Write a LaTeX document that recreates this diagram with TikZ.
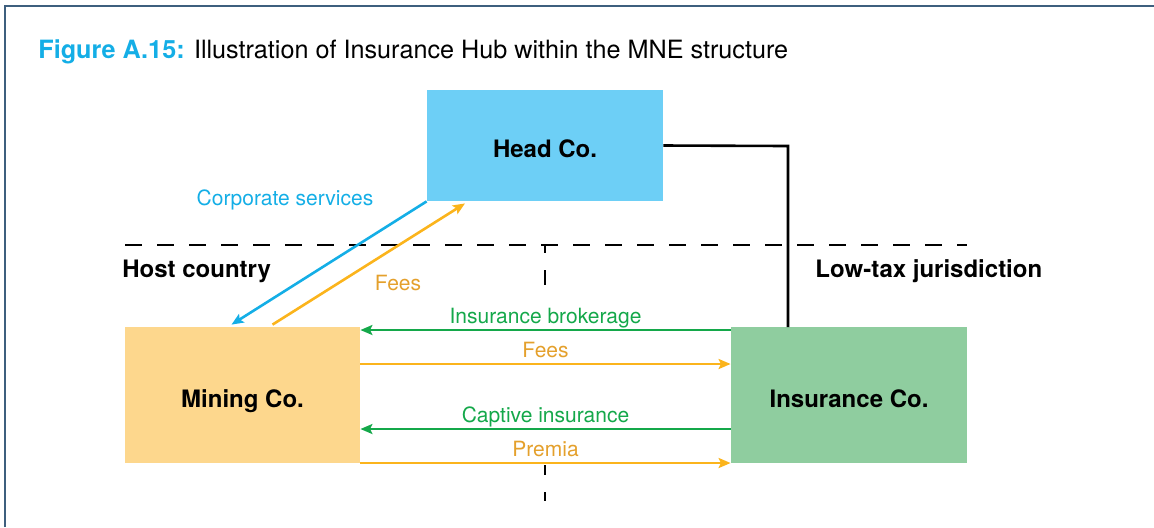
\documentclass[tikz,border=0pt]{standalone}
\usepackage{fontspec}
\setmainfont{TeX Gyre Heros}
\usetikzlibrary{arrows.meta,calc}

\definecolor{figblue}{HTML}{14AEE6}
\definecolor{headfill}{HTML}{6DCFF6}
\definecolor{minefill}{HTML}{FDD78D}
\definecolor{insfill}{HTML}{8FCD9F}
\definecolor{flowgreen}{HTML}{14A84A}
\definecolor{floworange}{HTML}{FBB41C}
\definecolor{feestext}{HTML}{E4A02C}
\definecolor{framecol}{HTML}{3E5F7E}

\tikzset{
    entity/.style={inner sep=0pt, text height=12pt, text depth=0pt,
        font=\fontsize{12}{14}\selectfont\bfseries},
    flow/.style={line width=1.3pt, -{Stealth[length=6pt,width=5pt,inset=1.2pt]}},
    flowlabel/.style={font=\fontsize{10.5}{12}\selectfont},
    region/.style={font=\fontsize{12}{14}\selectfont\bfseries, anchor=base west, inner sep=0pt},
    border/.style={line width=1.2pt, dash pattern=on 8.5pt off 7.5pt}
}

\begin{document}
\begin{tikzpicture}[x=0.5pt, y=-0.5pt]
    \useasboundingbox (0,0) rectangle (1154,527);
    \draw[framecol, line width=0.9pt] (5,527) -- (5,6) -- (1154,6);

    \node[anchor=base west, inner sep=0pt, font=\fontsize{12.6}{15}\selectfont] (title) at (38,58)
        {\textcolor{figblue}{\bfseries Figure A.15:} Illustration of Insurance Hub within the MNE structure};

    %borders between jurisdictions
    \draw[border] (125,245) -- (967,245);
    \draw[border, dash pattern=on 4pt off 8.5pt on 7.5pt off 20pt] (545,245) -- (545,290);
    \draw[border, dash pattern=on 5pt off 8.5pt] (545,465) -- (545,501);

    \node[region] (host) at (122,277) {Host country};
    \node[region] (lowtax) at (815,277) {Low-tax jurisdiction};

    %entities
    \node[entity, fill=headfill, minimum width=118pt, minimum height=55.5pt] (H) at (545,145.5) {Head Co.};
    \node[entity, fill=minefill, minimum width=117.5pt, minimum height=68pt] (M) at (242.5,395) {Mining Co.};
    \node[entity, fill=insfill, minimum width=118pt, minimum height=68pt] (I) at (849,395) {Insurance Co.};

    %ownership
    \draw[line width=1.3pt] (H.east) -- (788,146) -- (788,327);

    %head office flows
    \draw[flow, figblue] (H.south west) -- ($(M.north)+(-11,-2)$);
    \draw[flow, floworange] ($(M.north)+(30,-2)$) -- ($(H.south)+(-80,2)$);
    \node[flowlabel, text=figblue] (cs) at (285,200) {Corporate services};
    \node[flowlabel, text=feestext] (fd) at (398,283) {Fees};

    %flows between mining and insurance
    \foreach \dy/\lbl in {-65/Insurance brokerage, 34/Captive insurance}
    {
        \draw[flow, flowgreen] ($(I.west)+(0,\dy)$) --
            node[midway, anchor=base, yshift=3.3pt, inner sep=0pt, flowlabel, text=flowgreen] {\lbl}
            ($(M.east)+(0,\dy)$);
    }
    \foreach \dy/\lbl in {-31/Fees, 68/Premia}
    {
        \draw[flow, floworange] ($(M.east)+(0,\dy)$) --
            node[midway, anchor=base, yshift=3.5pt, inner sep=0pt, flowlabel, text=feestext] {\lbl}
            ($(I.west)+(0,\dy)$);
    }
\end{tikzpicture}
\end{document}
